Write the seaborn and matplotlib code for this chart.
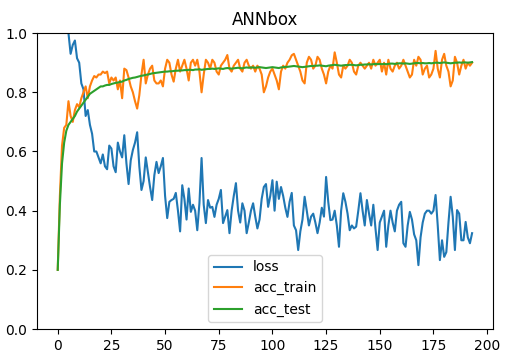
import matplotlib
matplotlib.use("Agg")
import matplotlib.pyplot as plt
import numpy as np
import pandas as pd
import seaborn as sns

# values, one per epoch
loss = [
    2.20, 1.60, 1.35, 1.20, 1.08, 1.00, 0.93, 0.96, 0.975, 0.915,
    0.90, 0.83, 0.81, 0.72, 0.74, 0.69, 0.66, 0.60, 0.60, 0.58,
    0.56, 0.59, 0.55, 0.54, 0.62, 0.61, 0.55, 0.53, 0.63, 0.60,
    0.58, 0.655, 0.56, 0.49, 0.57, 0.605, 0.63, 0.665, 0.55, 0.47,
    0.50, 0.58, 0.53, 0.48, 0.436, 0.52, 0.565, 0.527, 0.55, 0.578,
    0.45, 0.375, 0.43, 0.436, 0.44, 0.46, 0.40, 0.33, 0.486, 0.44,
    0.37, 0.475, 0.396, 0.42, 0.40, 0.334, 0.425, 0.578, 0.42, 0.358,
    0.436, 0.41, 0.413, 0.379, 0.42, 0.44, 0.47, 0.358, 0.38, 0.402,
    0.324, 0.40, 0.45, 0.493, 0.40, 0.36, 0.425, 0.40, 0.324, 0.36,
    0.40, 0.425, 0.38, 0.34, 0.37, 0.44, 0.48, 0.49, 0.413, 0.45,
    0.503, 0.40, 0.498, 0.44, 0.48, 0.45, 0.41, 0.379, 0.43, 0.46,
    0.35, 0.334, 0.267, 0.33, 0.37, 0.447, 0.40, 0.35, 0.38, 0.39,
    0.36, 0.324, 0.36, 0.41, 0.38, 0.514, 0.43, 0.368, 0.37, 0.40,
    0.35, 0.278, 0.40, 0.459, 0.43, 0.39, 0.334, 0.35, 0.34, 0.346,
    0.40, 0.459, 0.40, 0.35, 0.436, 0.39, 0.35, 0.42, 0.34, 0.267,
    0.36, 0.38, 0.40, 0.278, 0.35, 0.40, 0.36, 0.33, 0.40, 0.42,
    0.43, 0.29, 0.278, 0.35, 0.396, 0.37, 0.32, 0.30, 0.216, 0.31,
    0.36, 0.39, 0.40, 0.40, 0.39, 0.40, 0.453, 0.35, 0.233, 0.30,
    0.244, 0.26, 0.36, 0.447, 0.38, 0.267, 0.402, 0.39, 0.30, 0.30,
    0.362, 0.31, 0.29, 0.324,
]

acc_train = [
    0.20, 0.45, 0.62, 0.68, 0.69, 0.77, 0.72, 0.70, 0.74, 0.76,
    0.75, 0.78, 0.80, 0.82, 0.78, 0.82, 0.84, 0.855, 0.85, 0.86,
    0.86, 0.87, 0.865, 0.87, 0.83, 0.85, 0.84, 0.85, 0.81, 0.84,
    0.78, 0.88, 0.875, 0.85, 0.82, 0.80, 0.77, 0.745, 0.79, 0.86,
    0.91, 0.83, 0.86, 0.88, 0.89, 0.84, 0.83, 0.83, 0.84, 0.82,
    0.88, 0.91, 0.90, 0.86, 0.836, 0.88, 0.91, 0.87, 0.89, 0.91,
    0.88, 0.84, 0.90, 0.91, 0.89, 0.91, 0.87, 0.80, 0.86, 0.91,
    0.90, 0.88, 0.91, 0.90, 0.87, 0.86, 0.89, 0.90, 0.91, 0.926,
    0.88, 0.87, 0.89, 0.90, 0.91, 0.88, 0.87, 0.90, 0.91, 0.89,
    0.88, 0.89, 0.87, 0.89, 0.88, 0.86, 0.80, 0.82, 0.85, 0.87,
    0.88, 0.86, 0.84, 0.81, 0.87, 0.89, 0.88, 0.90, 0.91, 0.925,
    0.93, 0.91, 0.89, 0.87, 0.84, 0.83, 0.90, 0.92, 0.91, 0.88,
    0.89, 0.92, 0.91, 0.88, 0.86, 0.83, 0.87, 0.89, 0.88, 0.935,
    0.90, 0.86, 0.85, 0.89, 0.88, 0.89, 0.91, 0.90, 0.87, 0.86,
    0.89, 0.90, 0.89, 0.88, 0.89, 0.90, 0.88, 0.91, 0.89, 0.90,
    0.91, 0.87, 0.90, 0.86, 0.91, 0.88, 0.87, 0.89, 0.90, 0.88,
    0.89, 0.91, 0.89, 0.87, 0.85, 0.86, 0.91, 0.89, 0.92, 0.91,
    0.86, 0.88, 0.89, 0.85, 0.86, 0.88, 0.94, 0.88, 0.85, 0.91,
    0.93, 0.89, 0.87, 0.82, 0.84, 0.92, 0.90, 0.86, 0.89, 0.91,
    0.88, 0.90, 0.89, 0.90,
]

acc_test = [
    0.20, 0.42, 0.56, 0.63, 0.67, 0.69, 0.70, 0.71, 0.72, 0.735,
    0.745, 0.755, 0.765, 0.775, 0.785, 0.795, 0.80, 0.805, 0.81, 0.815,
    0.82, 0.82, 0.823, 0.825, 0.825, 0.828, 0.83, 0.832, 0.833, 0.835,
    0.836, 0.84, 0.842, 0.845, 0.847, 0.849, 0.85, 0.852, 0.854, 0.856,
    0.857, 0.859, 0.86, 0.862, 0.864, 0.865, 0.866, 0.867, 0.868, 0.869,
    0.870, 0.870, 0.871, 0.871, 0.872, 0.873, 0.873, 0.874, 0.874, 0.875,
    0.875, 0.876, 0.876, 0.875, 0.877, 0.877, 0.878, 0.876, 0.877, 0.878,
    0.879, 0.879, 0.880, 0.879, 0.880, 0.881, 0.880, 0.879, 0.881, 0.882,
    0.881, 0.880, 0.881, 0.882, 0.883, 0.882, 0.881, 0.883, 0.884, 0.883,
    0.884, 0.884, 0.883, 0.884, 0.885, 0.884, 0.883, 0.882, 0.883, 0.884,
    0.885, 0.884, 0.883, 0.882, 0.884, 0.885, 0.886, 0.886, 0.887, 0.888,
    0.889, 0.888, 0.887, 0.886, 0.885, 0.886, 0.887, 0.888, 0.889, 0.889,
    0.890, 0.890, 0.891, 0.890, 0.889, 0.888, 0.890, 0.891, 0.892, 0.893,
    0.892, 0.891, 0.890, 0.891, 0.892, 0.892, 0.893, 0.893, 0.892, 0.891,
    0.892, 0.893, 0.893, 0.894, 0.894, 0.895, 0.894, 0.895, 0.896, 0.895,
    0.896, 0.895, 0.896, 0.895, 0.896, 0.897, 0.897, 0.896, 0.897, 0.898,
    0.898, 0.897, 0.898, 0.897, 0.896, 0.897, 0.898, 0.899, 0.899, 0.898,
    0.899, 0.898, 0.898, 0.899, 0.898, 0.899, 0.900, 0.900, 0.899, 0.900,
    0.901, 0.900, 0.899, 0.898, 0.899, 0.900, 0.900, 0.901, 0.900, 0.901,
    0.901, 0.900, 0.901, 0.902,
]

epoch = np.arange(len(loss))
df = pd.DataFrame({"epoch": epoch, "loss": loss,
                   "acc_train": acc_train, "acc_test": acc_test})

fig = plt.figure(figsize=(5.07, 3.64), dpi=100)
ax = fig.add_axes([0.073, 0.096, 0.899, 0.813])

colors = sns.color_palette("tab10")
for i, col in enumerate(["loss", "acc_train", "acc_test"]):
    sns.lineplot(data=df, x="epoch", y=col, ax=ax, label=col,
                 color=colors[i], linewidth=1.5)

ax.set_ylim(0, 1.0)
ax.set_xticks([0, 25, 50, 75, 100, 125, 150, 175, 200])
ax.set_xlabel("")
ax.set_ylabel("")
ax.set_title("ANNbox")
ax.legend(loc="lower center")

fig.savefig("out.png", dpi=100)
